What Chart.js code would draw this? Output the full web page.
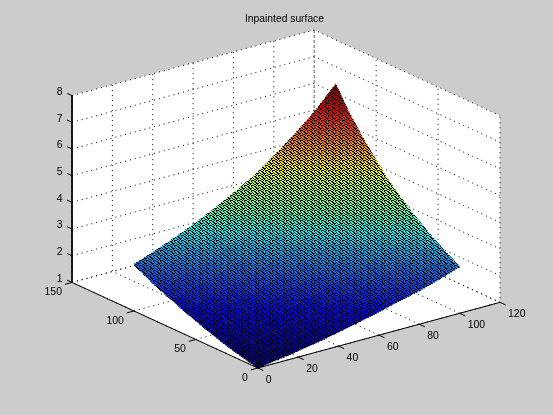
<!DOCTYPE html>
<html>
<head>
<meta charset="utf-8">
<title>Inpainted surface</title>
<style>
  html, body { margin: 0; padding: 0; background: #cccccc; }
  canvas { display: block; }
</style>
<script src="https://cdn.jsdelivr.net/npm/chart.js@4"></script>
</head>
<body>
<canvas id="chart" width="553" height="415"></canvas>
<script>
const titleText = 'Inpainted surface';
const xTicks = [0, 20, 40, 60, 80, 100, 120];
const yTicks = [0, 50, 100, 150];
const zTicks = [1, 2, 3, 4, 5, 6, 7, 8];

// surface samples
const gridX = [0, 10, 20, 30, 40, 50, 60, 70, 80, 90, 100];
const gridY = [0, 10, 20, 30, 40, 50, 60, 70, 80, 90, 100];
const surfaceZ = [
  [1.00, 1.12, 1.24, 1.37, 1.53, 1.70, 1.88, 2.08, 2.26, 2.49, 2.74],
  [1.12, 1.25, 1.38, 1.52, 1.69, 1.87, 2.06, 2.28, 2.48, 2.73, 3.01],
  [1.24, 1.38, 1.52, 1.67, 1.85, 2.05, 2.26, 2.50, 2.72, 3.00, 3.31],
  [1.37, 1.52, 1.67, 1.84, 2.03, 2.25, 2.47, 2.74, 2.99, 3.30, 3.64],
  [1.53, 1.69, 1.85, 2.03, 2.25, 2.47, 2.72, 3.01, 3.29, 3.63, 4.01],
  [1.70, 1.87, 2.05, 2.25, 2.47, 2.72, 2.99, 3.31, 3.62, 3.99, 4.42],
  [1.88, 2.06, 2.26, 2.47, 2.72, 2.99, 3.28, 3.63, 3.99, 4.39, 4.86],
  [2.08, 2.28, 2.50, 2.74, 3.01, 3.31, 3.63, 4.02, 4.43, 4.88, 5.42],
  [2.26, 2.48, 2.72, 2.99, 3.29, 3.62, 3.99, 4.43, 4.89, 5.40, 6.01],
  [2.49, 2.73, 3.00, 3.30, 3.63, 3.99, 4.39, 4.88, 5.40, 5.97, 6.66],
  [2.74, 3.01, 3.31, 3.64, 4.01, 4.42, 4.86, 5.42, 6.01, 6.66, 7.44]
];

const zMin = 1, zMax = 8;
const xMax = 120, yMax = 150;
const climMin = 1.1;
const cA = Math.cos(37.5 * Math.PI / 180), sA = Math.sin(37.5 * Math.PI / 180);
const cE = Math.cos(30 * Math.PI / 180), sE = Math.sin(30 * Math.PI / 180);

// default matlab view(3), the two chart axes are the screen directions
function project(x, y, z) {
  const xn = x / xMax, yn = y / yMax, zn = (z - zMin) / (zMax - zMin);
  return {
    x: xn * cA - yn * sA,
    y: zn * cE + (xn * sA + yn * cA) * sE
  };
}

function jet(t) {
  const f = (d) => Math.round(255 * Math.max(0, Math.min(1, 1.5 - Math.abs(4 * t - d))));
  return 'rgb(' + f(3) + ',' + f(2) + ',' + f(1) + ')';
}

function line(points, dotted) {
  return {
    data: points.map((p) => project(p[0], p[1], p[2])),
    showLine: true,
    borderColor: '#000000',
    borderWidth: 1,
    borderDash: dotted ? [1, 4] : [],
    pointRadius: 0,
    clip: false
  };
}

function polygon(points, kind, extra) {
  return Object.assign({
    data: points.map((p) => project(p[0], p[1], p[2])),
    showLine: false,
    pointRadius: 0,
    clip: false,
    polygon: kind
  }, extra);
}

const layers = [];

// axes background
layers.push(polygon([[0, 0, 1], [xMax, 0, 1], [xMax, 0, 8], [xMax, yMax, 8], [0, yMax, 8], [0, yMax, 1]], 'wall'));

// dotted grid on the floor and the two back walls
xTicks.forEach((x) => {
  layers.push(line([[x, 0, 1], [x, yMax, 1], [x, yMax, 8]], true));
});
yTicks.forEach((y) => {
  layers.push(line([[0, y, 1], [xMax, y, 1], [xMax, y, 8]], true));
});
zTicks.forEach((z) => {
  layers.push(line([[0, yMax, z], [xMax, yMax, z], [xMax, 0, z]], true));
});

// surface, far corner first
const lastZ = surfaceZ[surfaceZ.length - 1];
const climMax = lastZ[lastZ.length - 1];
for (let i = gridX.length - 2; i >= 0; i--) {
  for (let j = gridY.length - 2; j >= 0; j--) {
    const z00 = surfaceZ[j][i], z10 = surfaceZ[j][i + 1];
    const z11 = surfaceZ[j + 1][i + 1], z01 = surfaceZ[j + 1][i];
    layers.push(polygon([
      [gridX[i], gridY[j], z00],
      [gridX[i + 1], gridY[j], z10],
      [gridX[i + 1], gridY[j + 1], z11],
      [gridX[i], gridY[j + 1], z01]
    ], 'cell', { zLow: z00, zHigh: z11 }));
  }
}

// outline of the surface carries the black mesh texture
const outline = [];
gridX.forEach((x, i) => outline.push([x, 0, surfaceZ[0][i]]));
gridY.forEach((y, j) => outline.push([100, y, surfaceZ[j][10]]));
gridX.slice().reverse().forEach((x, i) => outline.push([x, 100, lastZ[10 - i]]));
gridY.slice().reverse().forEach((y, j) => outline.push([0, y, surfaceZ[10 - j][0]]));
layers.push(polygon(outline, 'mesh'));

// solid axes and tick marks
layers.push(line([[0, yMax, 8], [0, yMax, 1], [0, 0, 1], [xMax, 0, 1]], false));
xTicks.forEach((x) => layers.push(line([[x, 0, 1], [x, -4.5, 1]], false)));
yTicks.forEach((y) => layers.push(line([[0, y, 1], [-3.5, y, 1]], false)));
zTicks.forEach((z) => layers.push(line([[0, yMax, z], [0, yMax + 4, z]], false)));

// chart.js paints the first dataset last
layers.forEach((d, i) => { d.order = layers.length - i; });

function meshPattern(ctx) {
  const rows = ['##..#.#', '..##..#', '#..##..', '.#..###', '..##.#.'];
  const tile = document.createElement('canvas');
  tile.width = 7;
  tile.height = 5;
  const t = tile.getContext('2d');
  t.fillStyle = '#000000';
  rows.forEach((row, r) => {
    for (let c = 0; c < row.length; c++) {
      if (row[c] === '#') t.fillRect(c, r, 1, 1);
    }
  });
  return ctx.createPattern(tile, 'repeat');
}

const polygonFill = {
  id: 'polygonFill',
  beforeDatasetDraw(chart, args) {
    const ds = chart.data.datasets[args.index];
    if (!ds.polygon) return;
    const ctx = chart.ctx;
    const pts = args.meta.data;
    ctx.save();
    ctx.beginPath();
    pts.forEach((p, k) => (k ? ctx.lineTo(p.x, p.y) : ctx.moveTo(p.x, p.y)));
    ctx.closePath();
    if (ds.polygon === 'wall') {
      ctx.fillStyle = '#ffffff';
      ctx.fill();
    } else if (ds.polygon === 'mesh') {
      const mesh = meshPattern(ctx);
      ctx.fillStyle = mesh;
      ctx.strokeStyle = mesh;
      ctx.lineWidth = 1.2;
      ctx.fill();
      ctx.stroke();
    } else {
      const grad = ctx.createLinearGradient(pts[0].x, pts[0].y, pts[2].x, pts[2].y);
      const steps = 4;
      for (let s = 0; s <= steps; s++) {
        const z = ds.zLow + (ds.zHigh - ds.zLow) * s / steps;
        grad.addColorStop(s / steps, jet((z - climMin) / (climMax - climMin)));
      }
      ctx.fillStyle = grad;
      ctx.strokeStyle = grad;
      ctx.lineWidth = 0.5;
      ctx.fill();
      ctx.stroke();
    }
    ctx.restore();
  }
};

const tickLabels = {
  id: 'tickLabels',
  afterDraw(chart) {
    const ctx = chart.ctx;
    const sx = chart.scales.x, sy = chart.scales.y;
    const at = (x, y, z) => {
      const p = project(x, y, z);
      return [sx.getPixelForValue(p.x), sy.getPixelForValue(p.y)];
    };
    ctx.save();
    ctx.fillStyle = '#000000';
    ctx.font = '10.5px "Liberation Sans"';
    ctx.textBaseline = 'middle';
    ctx.textAlign = 'left';
    xTicks.forEach((x) => {
      const [px, py] = at(x, 0, 1);
      ctx.fillText(String(x), px + 8, py + 12);
    });
    ctx.textAlign = 'right';
    yTicks.forEach((y) => {
      const [px, py] = at(0, y, 1);
      ctx.fillText(String(y), px - 10, py + 10);
    });
    zTicks.forEach((z) => {
      const [px, py] = at(0, yMax, z);
      ctx.fillText(String(z), px - 9.5, py - 3.5);
    });
    ctx.restore();
  }
};

new Chart(document.getElementById('chart'), {
  type: 'scatter',
  data: { datasets: layers },
  plugins: [polygonFill, tickLabels],
  options: {
    responsive: false,
    animation: false,
    events: [],
    layout: { padding: { left: 68, right: 52, top: 0, bottom: 47 } },
    plugins: {
      legend: { display: false },
      tooltip: { enabled: false },
      title: {
        display: true,
        text: titleText,
        color: '#000000',
        font: { family: '"Liberation Sans"', size: 10.3, weight: 'normal', lineHeight: 1.2 },
        padding: { top: 13, bottom: 4.6 }
      }
    },
    scales: {
      x: { type: 'linear', display: false, min: -0.6219, max: 0.7966 },
      y: { type: 'linear', display: false, min: 0, max: 1.56709 }
    }
  }
});
</script>
</body>
</html>
